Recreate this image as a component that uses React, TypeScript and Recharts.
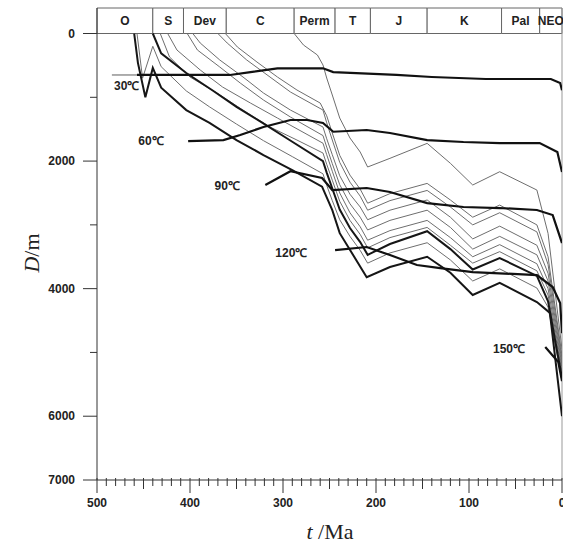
import React from 'react';
import { LineChart, Line, XAxis, YAxis, ReferenceArea, ReferenceDot, ReferenceLine } from 'recharts';

type Pt = [number, number];

// Geological periods (header band)
const periodNames = ['O', 'S', 'Dev', 'C', 'Perm', 'T', 'J', 'K', 'Pal', 'NEO'];
const periodBounds = [500, 440, 407, 361, 288, 244, 206, 145, 65, 24, 0];

// Axis ticks
const xTicks = [500, 490, 480, 470, 460, 450, 440, 430, 420, 410, 400, 390, 380, 370, 360, 350, 340, 330, 320, 310, 300, 290, 280, 270, 260, 250, 240, 230, 220, 210, 200, 190, 180, 170, 160, 150, 140, 130, 120, 110, 100, 90, 80, 70, 60, 50, 40, 30, 20, 10, 0];
const xTickLabels = [500, 400, 300, 200, 100, 0];
const yTicks = [0, 1000, 2000, 3000, 4000, 5000, 6000, 7000];
const yTickLabels = [0, 2000, 4000, 6000, 7000];

// Burial curves [t (Ma), depth (m)]
const burialPerm: Pt[] = [[288, 0], [278, 180], [263, 337], [257, 494], [253, 698], [247, 964], [239, 1325], [228, 1638], [217, 1858], [209, 2093], [185, 1957], [145, 1722], [120, 2035], [96, 2375], [67, 2167], [27, 2454], [15, 3133], [0, 4950]];
const burialC2: Pt[] = [[362, 0], [349, 212], [328, 447], [306, 682], [285, 886], [260, 1090], [253, 1290], [247, 1560], [239, 1910], [228, 2220], [217, 2440], [209, 2660], [185, 2510], [145, 2350], [120, 2610], [96, 2880], [67, 2690], [27, 3000], [15, 3500], [0, 5050]];
const burialC3: Pt[] = [[370, 0], [360, 149], [339, 415], [314, 682], [292, 917], [257, 1200], [253, 1400], [247, 1670], [239, 2020], [228, 2330], [217, 2550], [209, 2770], [185, 2620], [145, 2460], [120, 2720], [96, 3000], [67, 2810], [27, 3110], [15, 3620], [0, 5100]];
const burialC4: Pt[] = [[397, 0], [389, 149], [368, 415], [343, 682], [321, 933], [292, 1200], [257, 1466], [253, 1650], [247, 1900], [239, 2230], [228, 2520], [217, 2720], [209, 2920], [185, 2770], [145, 2610], [120, 2880], [96, 3220], [67, 3020], [27, 3320], [15, 3760], [0, 5150]];
const burialC5: Pt[] = [[403, 0], [392, 259], [368, 525], [346, 776], [321, 1043], [292, 1309], [257, 1600], [253, 1780], [247, 2040], [239, 2370], [228, 2670], [217, 2880], [209, 3080], [185, 2930], [145, 2770], [120, 3040], [96, 3380], [67, 3180], [27, 3470], [15, 3880], [0, 5200]];
const burialC6: Pt[] = [[424, 0], [414, 259], [389, 572], [365, 839], [335, 1090], [306, 1325], [257, 1720], [253, 1900], [247, 2160], [239, 2500], [228, 2810], [217, 3030], [209, 3240], [185, 3090], [145, 2930], [120, 3200], [96, 3500], [67, 3310], [27, 3610], [15, 4000], [0, 5250]];
const burialC7: Pt[] = [[432, 0], [422, 368], [400, 682], [371, 933], [343, 1200], [314, 1466], [285, 1670], [257, 1874], [253, 2050], [247, 2300], [239, 2630], [228, 2930], [217, 3150], [209, 3360], [185, 3200], [145, 3040], [120, 3320], [96, 3600], [67, 3420], [27, 3720], [15, 4100], [0, 5300]];
const burialS: Pt[] = [[440, 0], [431, 310], [404, 620], [376, 890], [350, 1150], [322, 1400], [293, 1670], [257, 2000], [253, 2180], [247, 2430], [239, 2760], [228, 3050], [217, 3270], [209, 3470], [185, 3300], [145, 3100], [120, 3380], [96, 3700], [67, 3520], [27, 3800], [15, 4200], [0, 5400]];
const burialC9: Pt[] = [[457, 0], [451, 700], [440, 200], [431, 520], [404, 900], [379, 1150], [350, 1420], [321, 1680], [290, 1930], [257, 2200], [253, 2380], [247, 2620], [239, 2920], [228, 3180], [217, 3400], [209, 3600], [185, 3440], [145, 3280], [120, 3550], [96, 3880], [67, 3690], [27, 3990], [15, 4290], [0, 5450]];
const burialO: Pt[] = [[460, 0], [456, 460], [448, 1000], [440, 540], [431, 850], [404, 1200], [379, 1400], [350, 1670], [321, 1905], [290, 2140], [258, 2400], [247, 2770], [239, 3130], [210, 3820], [185, 3660], [145, 3500], [120, 3750], [96, 4100], [67, 3910], [27, 4210], [13, 4380], [0, 6000]];

// Isotherms [t (Ma), depth (m)]
const iso30Lead: Pt[] = [[484, 650], [457, 650]];
const iso30: Pt[] = [[457, 650], [357, 650], [335, 604], [306, 546], [257, 546], [246, 604], [178, 650], [140, 682], [82, 713], [12, 713], [2, 776], [0, 890]];
const iso60: Pt[] = [[402, 1686], [364, 1670], [346, 1591], [321, 1466], [292, 1356], [274, 1356], [257, 1403], [246, 1540], [210, 1513], [185, 1560], [145, 1670], [106, 1701], [67, 1717], [24, 1717], [5, 1858], [0, 2172]];
const iso90: Pt[] = [[319, 2375], [292, 2160], [258, 2266], [247, 2454], [210, 2422], [185, 2485], [145, 2658], [106, 2720], [67, 2736], [27, 2767], [10, 2846], [0, 3285]];
const iso120: Pt[] = [[244, 3395], [210, 3347], [185, 3473], [156, 3630], [131, 3677], [96, 3740], [27, 3787], [10, 3975], [2, 4225], [0, 4700]];
const iso150: Pt[] = [[18, 4915], [4, 5150], [0, 5450]];

// Isotherm labels [t, depth]
const isoLabels: { text: string; t: number; d: number }[] = [
  { text: '30℃', t: 468, d: 830 },
  { text: '60℃', t: 442, d: 1685 },
  { text: '90℃', t: 360, d: 2391 },
  { text: '120℃', t: 291, d: 3442 },
  { text: '150℃', t: 57, d: 4947 },
];

const toData = (pts: Pt[]) => pts.map(([t, d]) => ({ t, d }));

const thinCurves = [burialPerm, burialC2, burialC3, burialC4, burialC5, burialC6, burialC7, burialC9];
const thickCurves = [burialS, burialO];
const isotherms = [iso30, iso60, iso90, iso120, iso150];

const SANS = '"Liberation Sans", Arial, Helvetica, sans-serif';
const SERIF = '"Liberation Serif", "Times New Roman", serif';

const XTick = (props: any) => {
  const { x, y, payload } = props;
  const v = payload.value as number;
  const major = v % 100 === 0;
  const mid = v % 50 === 0;
  const len = major ? 13 : mid ? 9 : 6;
  return (
    <g>
      <line x1={x} x2={x} y1={y - 2} y2={y + len} stroke="#333" strokeWidth={1} />
      {xTickLabels.includes(v) && (
        <text x={x} y={y + 27} textAnchor="middle" fontFamily={SANS} fontWeight="bold" fontSize={12} fill="#222">
          {v}
        </text>
      )}
    </g>
  );
};

const YTick = (props: any) => {
  const { x, y, payload } = props;
  const v = payload.value as number;
  const labeled = yTickLabels.includes(v);
  const len = labeled ? 14 : 7;
  return (
    <g>
      <line x1={x - len} x2={x} y1={y} y2={y} stroke="#333" strokeWidth={1} />
      {labeled && (
        <text x={x - 22} y={y} dy={4} textAnchor="end" fontFamily={SANS} fontWeight="bold" fontSize={12} fill="#222">
          {v}
        </text>
      )}
    </g>
  );
};

const YTitle = (props: any) => {
  const vb = props.viewBox || { x: 0, y: 8, width: 97, height: 472 };
  const cx = vb.x + 31;
  const cy = vb.y + 245;
  return (
    <text x={cx} y={cy} transform={`rotate(-90 ${cx} ${cy})`} textAnchor="middle" dominantBaseline="central" fontFamily={SERIF} fontSize={22} fill="#222">
      <tspan fontStyle="italic">D</tspan>
      <tspan>/m</tspan>
    </text>
  );
};

const XTitle = (props: any) => {
  const vb = props.viewBox || { x: 97, y: 480, width: 465, height: 67 };
  const cx = vb.x + 233;
  const cy = vb.y + 59;
  return (
    <text x={cx} y={cy} textAnchor="middle" fontFamily={SERIF} fontSize={22} fill="#222">
      <tspan fontStyle="italic">t</tspan>
      <tspan> /Ma</tspan>
    </text>
  );
};

const makeLabelShape = (text: string) => (p: any) => (
  <text x={p.cx} y={p.cy} textAnchor="middle" dominantBaseline="central" fontFamily={SANS} fontWeight="bold" fontSize={12} fill="#222">
    {text}
  </text>
);

export default function App() {
  return (
    <div style={{ position: 'absolute', left: 0, top: 0, background: '#fff' }}>
      <LineChart width={563} height={547} margin={{ top: 8, right: 1, left: 0, bottom: 0 }}>
        <XAxis
          type="number"
          dataKey="t"
          domain={[0, 500]}
          reversed
          allowDataOverflow
          ticks={xTicks}
          interval={0}
          tickSize={0}
          tickMargin={0}
          tickLine={false}
          tick={<XTick />}
          height={67}
          axisLine={{ stroke: '#333', strokeWidth: 1 }}
          label={XTitle}
        />
        <YAxis
          type="number"
          dataKey="d"
          domain={[-400, 7000]}
          reversed
          allowDataOverflow
          ticks={yTicks}
          interval={0}
          tickSize={0}
          tickMargin={0}
          tickLine={false}
          tick={<YTick />}
          width={97}
          axisLine={{ stroke: '#333', strokeWidth: 1 }}
          label={YTitle}
        />
        {periodNames.map((name, i) => (
          <ReferenceArea
            key={name}
            x1={periodBounds[i]}
            x2={periodBounds[i + 1]}
            y1={-400}
            y2={0}
            fill="#fff"
            fillOpacity={1}
            stroke="#666"
            strokeWidth={1}
            ifOverflow="visible"
            label={{ value: name, position: 'center', fill: '#222', fontSize: 12, fontWeight: 'bold', fontFamily: SANS }}
          />
        ))}
        <ReferenceLine x={0} stroke="#999" strokeWidth={1} ifOverflow="visible" />
        {thinCurves.map((c, i) => (
          <Line key={'thin' + i} data={toData(c)} dataKey="d" type="linear" stroke="#6e6e6e" strokeWidth={1} dot={false} isAnimationActive={false} />
        ))}
        <Line data={toData(iso30Lead)} dataKey="d" type="linear" stroke="#777" strokeWidth={1.2} dot={false} isAnimationActive={false} />
        {thickCurves.map((c, i) => (
          <Line key={'thick' + i} data={toData(c)} dataKey="d" type="linear" stroke="#161616" strokeWidth={2} dot={false} isAnimationActive={false} />
        ))}
        {isotherms.map((c, i) => (
          <Line key={'iso' + i} data={toData(c)} dataKey="d" type="linear" stroke="#111" strokeWidth={2.2} dot={false} isAnimationActive={false} />
        ))}
        {isoLabels.map((l) => (
          <ReferenceDot key={l.text} x={l.t} y={l.d} r={0} ifOverflow="visible" shape={makeLabelShape(l.text)} />
        ))}
      </LineChart>
    </div>
  );
}
